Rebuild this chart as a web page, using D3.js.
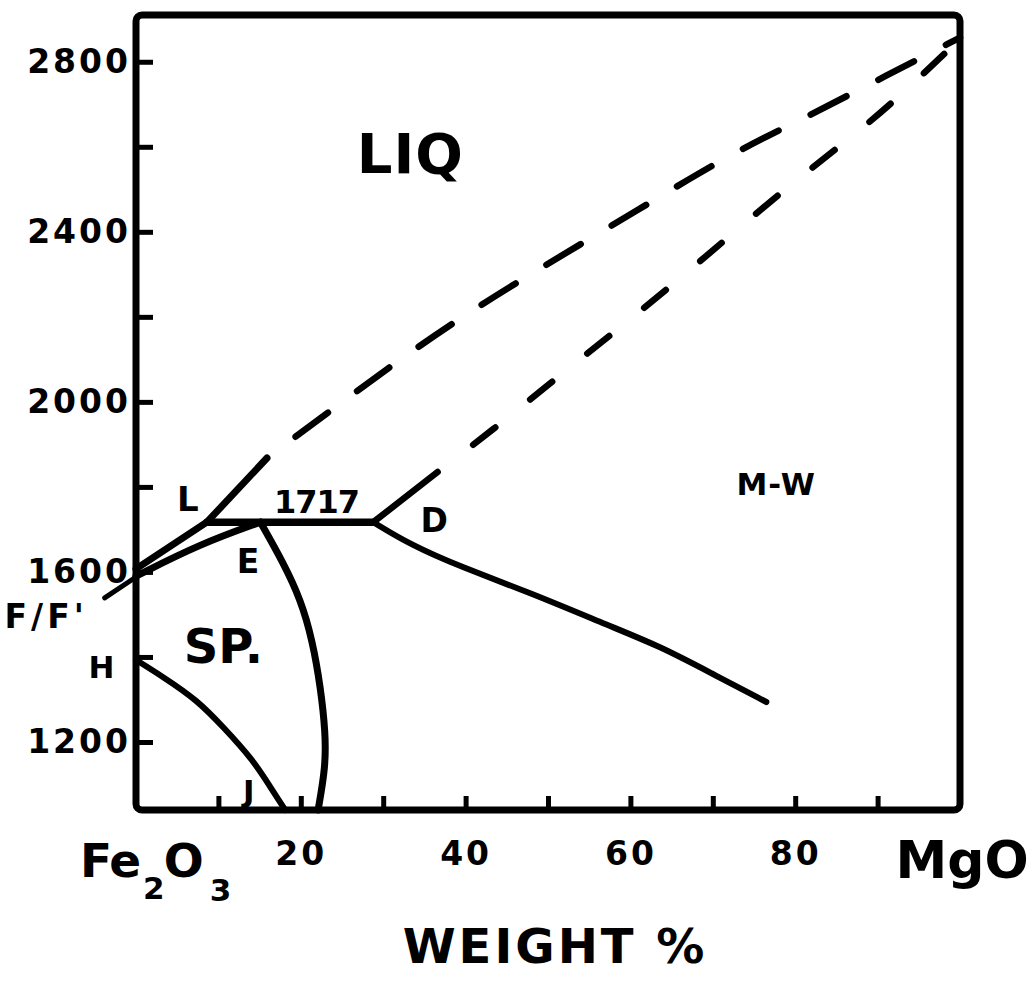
<!DOCTYPE html>
<html>
<head>
<meta charset="utf-8">
<script src="https://cdn.jsdelivr.net/npm/d3@7"></script>
<style>
  body { margin: 0; background: #fff; }
  svg text { font-family: "DejaVu Sans", sans-serif; font-weight: bold; fill: #000; }
</style>
</head>
<body>
<svg id="diagram" width="1029" height="981"></svg>
<script>
// Fe2O3 - MgO diagram, weight % MgO vs temperature

const xTicks = [10, 20, 30, 40, 50, 60, 70, 80, 90];
const xTickLabels = [20, 40, 60, 80];
const yTicks = [1200, 1400, 1600, 1800, 2000, 2200, 2400, 2600, 2800];
const yTickLabels = [1200, 1600, 2000, 2400, 2800];

// F -> L -> start of the dashed liquidus
const liquidusSolid = [[0, 1607], [8.6, 1717], [15.9, 1868]];
const liquidusDashed = [[15.9, 1868], [24.2, 1988], [31.6, 2094], [39.0, 2193], [46.7, 2287],
    [61.3, 2456], [72.4, 2586], [81.9, 2675], [91.0, 2767], [100, 2857]];
// D -> solidus of magnesiowustite
const solidusSolid = [[28.8, 1717], [36.6, 1835]];
const solidusDashed = [[36.6, 1835], [43.3, 1934], [50.0, 2040], [57.2, 2151], [66.2, 2292],
    [77.5, 2482], [86.4, 2616], [92.3, 2711], [100, 2854]];
const isotherm = [[8.6, 1717], [28.8, 1717]];
const spinelLiquidus = [[0, 1590], [7.8, 1666], [15.1, 1717]];
const ffExtension = [[-3.8, 1539], [0, 1588]];
const spinelSolvus = [[15.1, 1717], [17.9, 1621], [20.0, 1534], [21.4, 1440], [22.4, 1329],
    [23.0, 1221], [23.0, 1141], [22.1, 1040]];
const mwSolvus = [[28.8, 1717], [33.3, 1664], [39.4, 1612], [47.6, 1553], [57.7, 1471],
    [63.7, 1424], [69.8, 1362], [76.5, 1294]];
const hematiteSolvus = [[0, 1393], [3.3, 1353], [7.4, 1299], [10.6, 1235], [14.2, 1158],
    [16.3, 1094], [18.1, 1040]];

// field / point labels: text, weight %, temperature (baseline), font size, letter spacing
const labels = [
    ["LIQ", 33.3, 2539, 56, 1],
    ["M-W", 77.7, 1781, 31, 1],
    ["L", 6.3, 1743, 34, 0],
    ["1717", 21.9, 1739, 32, -1],
    ["D", 36.2, 1694, 33, 0],
    ["E", 13.6, 1598, 33, 0],
    ["SP.", 10.6, 1386, 48, 0],
    ["H", -4.2, 1351, 31, 0],
    ["J", 13.7, 1059, 31, 0],
    ["F/F'", -10.9, 1468, 33, 4],
];

class PhaseDiagram {

    constructor(svg_element_id) {
        this.svg = d3.select('#' + svg_element_id);
        this.left = 136;
        this.right = 960;
        this.top = 15;
        this.bottom = 810;
    }

    draw() {
        const x = d3.scaleLinear().domain([0, 100]).range([this.left, this.right]);
        const y = d3.scaleLinear().domain([1040, 2910]).range([this.bottom, this.top]);

        const smooth = d3.line().x(d => x(d[0])).y(d => y(d[1])).curve(d3.curveBasis);
        const straight = d3.line().x(d => x(d[0])).y(d => y(d[1]));

        // frame
        this.svg.append("rect")
            .attr("x", this.left).attr("y", this.top)
            .attr("width", this.right - this.left).attr("height", this.bottom - this.top)
            .attr("rx", 6)
            .attr("fill", "none").attr("stroke", "#000").attr("stroke-width", 7);

        // axes, ticks pointing inward
        const yAxis = this.svg.append("g")
            .attr("transform", `translate(${this.left},0)`)
            .call(d3.axisLeft(y).tickValues(yTicks).tickSize(-17).tickPadding(5)
                .tickFormat(d => yTickLabels.includes(d) ? d : ""));
        yAxis.select(".domain").remove();
        yAxis.selectAll("line").attr("stroke-width", 5);
        yAxis.selectAll("text").attr("font-size", 33).attr("letter-spacing", 3);

        const xAxis = this.svg.append("g")
            .attr("transform", `translate(0,${this.bottom})`)
            .call(d3.axisBottom(x).tickValues(xTicks).tickSize(-14).tickPadding(32)
                .tickFormat(d => xTickLabels.includes(d) ? d : ""));
        xAxis.select(".domain").remove();
        xAxis.selectAll("line").attr("stroke-width", 5);
        xAxis.selectAll("text").attr("font-size", 33).attr("letter-spacing", 3);

        const curve = (data, gen, width, dash, offset) => {
            this.svg.append("path")
                .datum(data)
                .attr("d", gen)
                .attr("fill", "none")
                .attr("stroke", "#000")
                .attr("stroke-width", width)
                .attr("stroke-linecap", "round")
                .attr("stroke-linejoin", "round")
                .attr("stroke-dasharray", dash || null)
                .attr("stroke-dashoffset", offset || 0);
        };

        curve(liquidusSolid, straight, 7);
        curve(liquidusDashed, smooth, 6.5, "40,36", 40);
        curve(solidusSolid, straight, 6.5);
        curve(solidusDashed, smooth, 6.5, "28,45", 28);
        curve(isotherm, straight, 7.5);
        curve(spinelLiquidus, smooth, 7);
        curve(ffExtension, straight, 5);
        curve(spinelSolvus, smooth, 7);
        curve(mwSolvus, smooth, 6);
        curve(hematiteSolvus, smooth, 6);

        this.svg.selectAll("text.lbl")
            .data(labels)
            .enter().append("text")
            .attr("class", "lbl")
            .attr("x", d => x(d[1]))
            .attr("y", d => y(d[2]))
            .attr("text-anchor", "middle")
            .attr("font-size", d => d[3])
            .attr("letter-spacing", d => d[4])
            .text(d => d[0]);

        // end members and axis title
        const fe = this.svg.append("text").attr("x", 80).attr("y", 877).attr("font-size", 47);
        fe.append("tspan").attr("letter-spacing", -1).text("Fe");
        fe.append("tspan").attr("font-size", 31).attr("dy", 22).attr("dx", 3).text("2");
        fe.append("tspan").attr("dy", -22).attr("dx", -1).text("O");
        fe.append("tspan").attr("font-size", 31).attr("dy", 24).attr("dx", 6).text("3");

        this.svg.append("text")
            .attr("x", 962).attr("y", 878)
            .attr("text-anchor", "middle").attr("font-size", 52)
            .text("MgO");

        this.svg.append("text")
            .attr("x", 555).attr("y", 963)
            .attr("text-anchor", "middle").attr("font-size", 48).attr("letter-spacing", 3)
            .text("WEIGHT %");
    }
}

function whenDocumentLoaded(action) {
    if (document.readyState === "loading") {
        document.addEventListener("DOMContentLoaded", action);
    } else {
        action();
    }
}

whenDocumentLoaded(() => {
    plot_object = new PhaseDiagram('diagram');
    plot_object.draw();
});
</script>
</body>
</html>
